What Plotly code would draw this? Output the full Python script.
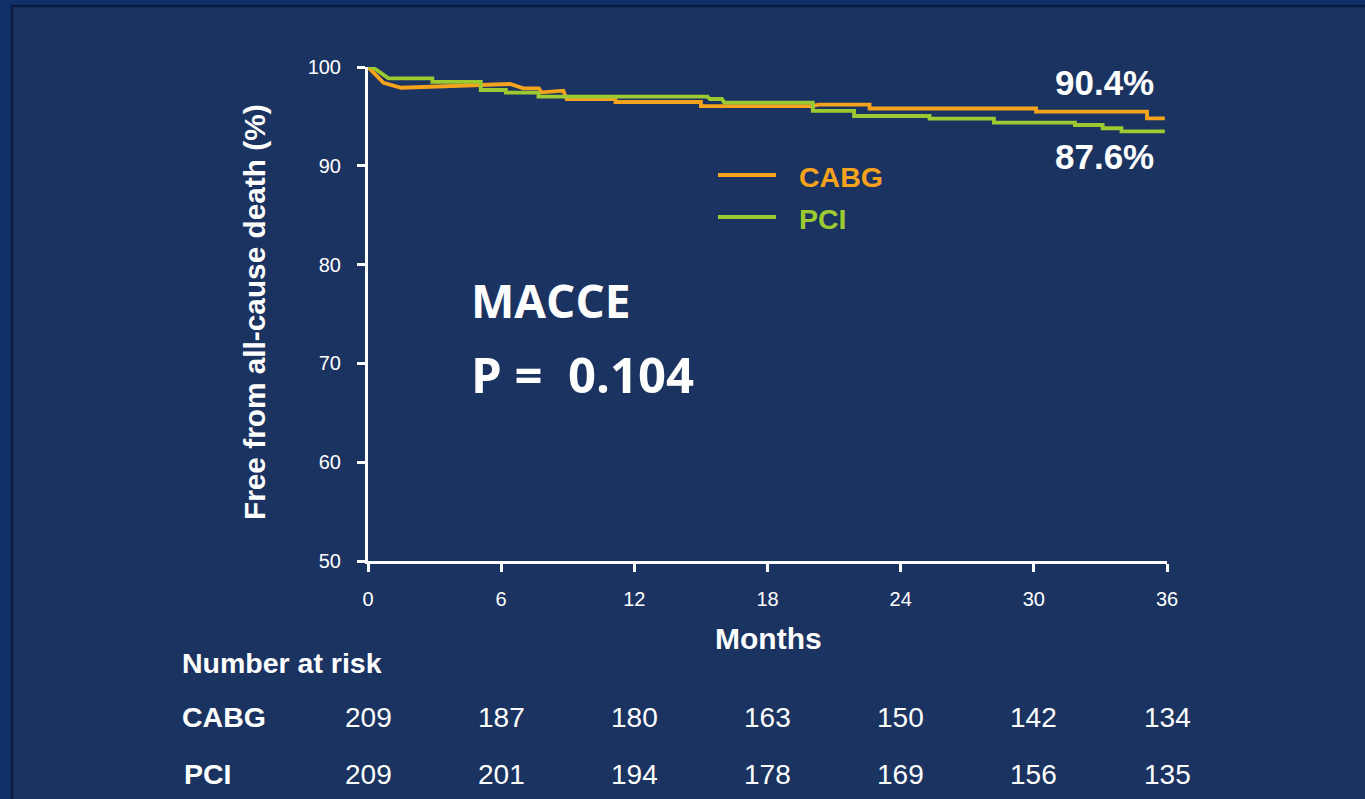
import plotly.graph_objects as go

# ---------------- data ----------------
cabg_months = [0, 0.25, 0.7, 1.5, 4.9, 6.4, 7.0, 7.7, 7.8, 8.8, 8.95, 11.15, 11.15, 15.0, 15.0,
               20.0, 20.3, 22.6, 22.6, 30.1, 30.1, 35.1, 35.1, 35.9]
cabg_surv = [100, 99.4, 98.4, 97.9, 98.18, 98.28, 97.84, 97.84, 97.44, 97.6, 96.76, 96.76, 96.46, 96.46, 96.05,
             96.05, 96.2, 96.2, 95.8, 95.8, 95.48, 95.48, 94.8, 94.8]

pci_months = [0, 0.2, 0.92, 2.9, 2.9, 5.08, 5.08, 6.21, 6.21, 7.68, 7.68, 15.3, 15.4, 15.95, 16.05,
              20.04, 20.04, 21.9, 21.9, 25.3, 25.3, 28.2, 28.2, 31.85, 31.85, 33.1, 33.1, 33.95, 33.95, 35.9]
pci_surv = [100, 100, 98.85, 98.85, 98.5, 98.5, 97.67, 97.67, 97.4, 97.4, 97.0, 97.0, 96.76, 96.76, 96.4,
            96.4, 95.55, 95.55, 95.04, 95.04, 94.77, 94.77, 94.36, 94.36, 94.13, 94.13, 93.8, 93.8, 93.49, 93.49]

x_ticks = [0, 6, 12, 18, 24, 30, 36]
y_ticks = [50, 60, 70, 80, 90, 100]
risk_times = [0, 6, 12, 18, 24, 30, 36]
risk_cabg = [209, 187, 180, 163, 150, 142, 134]
risk_pci = [209, 201, 194, 178, 169, 156, 135]
group_names = ["CABG", "PCI"]
final_labels = ["90.4%", "87.6%"]
title_text = "MACCE"
p_text = "P = &nbsp;0.104"

# ---------------- style ----------------
W, H = 1365, 799
L, R, T, B = 368, 1167, 67, 561
OUTER = "#10306a"
INNER = "#1b3361"
EDGE = "#0b1c40"
ORANGE = "#f5a31c"
GREEN = "#9dca30"
WHITE = "#ffffff"
ARIAL = "Liberation Sans, Arial, sans-serif"
SEGOE = "Open Sans, sans-serif"


def px(x):
    return (x - L) / (R - L)


def py(y):
    return (B - y) / (B - T)


fig = go.Figure()
fig.add_trace(go.Scatter(x=cabg_months, y=cabg_surv, mode="lines",
                         line=dict(color=ORANGE, width=3.8), name=group_names[0], showlegend=False))
fig.add_trace(go.Scatter(x=pci_months, y=pci_surv, mode="lines",
                         line=dict(color=GREEN, width=3.8), name=group_names[1], showlegend=False))

shapes = [
    dict(type="rect", xref="paper", yref="paper", x0=px(12), x1=px(1380), y0=py(6), y1=py(820),
         fillcolor=INNER, line=dict(color=EDGE, width=2.5), layer="below"),
    # legend samples
    dict(type="line", xref="paper", yref="paper", x0=px(718), x1=px(776), y0=py(175), y1=py(175),
         line=dict(color=ORANGE, width=3.8)),
    dict(type="line", xref="paper", yref="paper", x0=px(718), x1=px(776), y0=py(217), y1=py(217),
         line=dict(color=GREEN, width=3.8)),
]

ann = []


def text(x, y, s, size, color=WHITE, bold=True, family=ARIAL, xanchor="left", xref="paper", angle=0):
    ann.append(dict(x=x, y=y, xref=xref, yref="paper", text=("<b>%s</b>" % s) if bold else s,
                    showarrow=False, xanchor=xanchor, yanchor="middle", textangle=angle,
                    font=dict(size=size, color=color, family=family)))


# legend
text(px(797), py(177), group_names[0], 28.5, color=ORANGE)
text(px(797), py(219), group_names[1], 28.5, color=GREEN)
# final percentages
text(px(1104), py(83), final_labels[0], 35, xanchor="center")
text(px(1104), py(156), final_labels[1], 35, xanchor="center")
# MACCE / p value
text(px(469), py(300), title_text, 46, family=SEGOE)
text(px(469), py(374), p_text, 49, family=SEGOE)
# axis titles
text(px(254), py(312), "Free from all-cause death (%)", 29.8, xanchor="center", angle=-90)
text(px(768), py(638), "Months", 30, xanchor="center")
# risk table
text(px(180), py(663), "Number at risk", 28.5)
text(px(180), py(717), group_names[0], 28.5)
text(px(182), py(774), group_names[1], 28.5)
for t, a, b in zip(risk_times, risk_cabg, risk_pci):
    text(t, py(717), str(a), 28, bold=False, xanchor="center", xref="x")
    text(t, py(774), str(b), 28, bold=False, xanchor="center", xref="x")

fig.update_layout(
    width=W, height=H,
    margin=dict(l=L, r=W - R, t=T, b=H - B, pad=0),
    paper_bgcolor=OUTER, plot_bgcolor="rgba(0,0,0,0)",
    shapes=shapes, annotations=ann,
    xaxis=dict(range=[0, 36], tickvals=x_ticks, ticks="outside", ticklen=8, tickwidth=2.5,
               tickcolor=WHITE, showline=True, linecolor=WHITE, linewidth=3, showgrid=False,
               zeroline=False, tickfont=dict(size=20, color=WHITE, family=ARIAL),
               ticklabelstandoff=10),
    yaxis=dict(range=[50, 100], tickvals=y_ticks, ticks="outside", ticklen=8, tickwidth=2.5,
               tickcolor=WHITE, showline=True, linecolor=WHITE, linewidth=3, showgrid=False,
               zeroline=False, tickfont=dict(size=20, color=WHITE, family=ARIAL),
               ticklabelstandoff=12),
)

fig.write_html(
    "out.html",
    config={"displayModeBar": False},
    post_script="document.body.style.margin='0';document.body.style.background='%s';" % OUTER,
)
